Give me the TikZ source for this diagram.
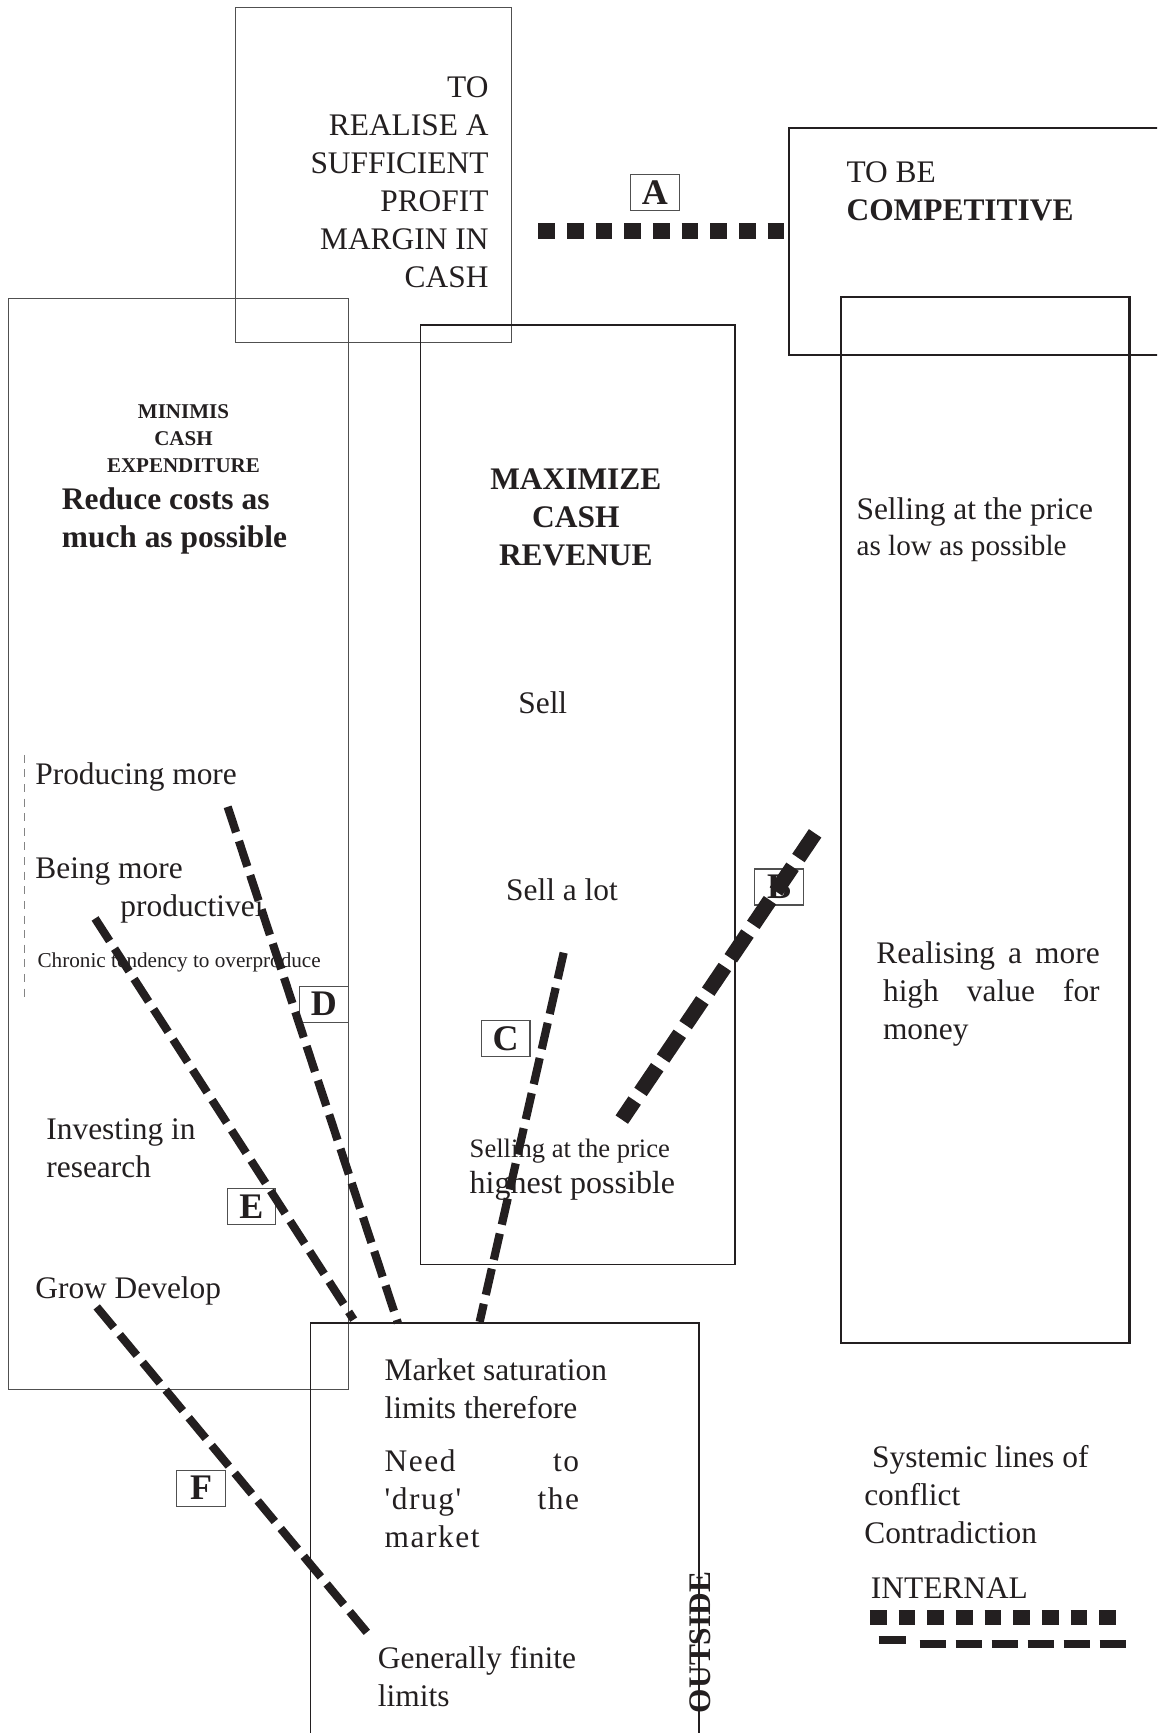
\documentclass[tikz,border=0pt]{standalone}
\usepackage{fontspec}
\setmainfont{Liberation Serif}[Ligatures=TeXOff]
\usetikzlibrary{fit}
\definecolor{ink}{HTML}{231F20}
\definecolor{frame}{HTML}{505050}
\tikzset{
  box/.style={inner sep=0pt, outer sep=0pt},
  thinbox/.style={box, draw=frame, line width=0.6pt},
  midbox/.style={box, draw=ink, line width=0.6pt},
  darkbox/.style={box, draw=ink, line width=0.85pt},
  heavybox/.style={box, draw=ink, line width=1.1pt},
  txt/.style={inner sep=0pt, outer sep=0pt, text=ink, anchor=base west},
  big/.style={font=\fontsize{15.7}{19}\selectfont},
  bigbf/.style={font=\bfseries\fontsize{15.7}{19}\selectfont},
  tag/.style={draw=frame, line width=0.6pt, inner sep=0pt, minimum width=24.3pt,
    minimum height=18pt, text=ink, font=\bfseries\fontsize{18}{18}\selectfont},
  cutline/.style={draw=ink, line width=4.1pt, dash pattern=on 13.4pt off 4.6pt},
  heavycut/.style={draw=ink, line width=7.5pt, dash pattern=on 14.9pt off 5.25pt},
  squares/.style={draw=ink, line width=7.85pt, dash pattern=on 8.34pt off 6.0pt},
  legenddash/.style={draw=ink, line width=4pt, dash pattern=on 13.4pt off 4.6pt},
  guide/.style={draw=frame!70, line width=0.5pt, dash pattern=on 4pt off 3.3pt}
}
\begin{document}
\begin{tikzpicture}[x=0.5525pt, y=-0.5525pt]
\useasboundingbox (0,0) rectangle (1047,1568);
\clip (0,0) rectangle (1047,1568);

% frames
\node[thinbox, fit={(213,7) (463,310)}] (profit) {};
\node[darkbox, fit={(714,116) (1075,321)}] (compet) {};
\node[thinbox, fit={(8,270) (315,1257)}] (minimis) {};
\node[midbox, fit={(380.5,294) (665,1144)}] (maxim) {};
\node[heavybox, fit={(761,269) (1022,1215)}] (lowprice) {};
\node[darkbox, fit={(281,1197) (632.5,1600)}] (outside) {};

% thin dashed guide inside the left frame
\coordinate (g1) at (22.6,683);
\coordinate (g2) at (22.6,905);
\draw[guide] (g1) -- (g2);

% goal
\node[txt, big, anchor=base east] (goal) at (442,88)
  {\parbox[t]{140pt}{\raggedleft TO\\REALISE A\\SUFFICIENT\\PROFIT\\MARGIN IN\\CASH}};
\node[txt, big] (competitive) at (766,165)
  {\parbox[t]{150pt}{TO BE\\\textbf{COMPETITIVE}}};

% left column
\node[txt, font=\bfseries\fontsize{10.5}{13.6}\selectfont, anchor=base] (expend) at (166,378.5)
  {\parbox[t]{100pt}{\centering MINIMIS\\CASH\\EXPENDITURE}};
\node[txt, bigbf] (reduce) at (56,461)
  {\parbox[t]{150pt}{Reduce costs as\\much as possible}};
\node[txt, big] (producing) at (32,710) {Producing more};
\node[txt, big] (being) at (32,795) {Being more};
\node[txt, big] (productive) at (109,829) {productivei};
\node[txt, font=\fontsize{10.6}{13}\selectfont] (chronic) at (34,875) {Chronic tendency to overproduce};
\node[txt, big] (investing) at (42,1031) {\parbox[t]{120pt}{Investing in\\research}};
\node[txt, big] (grow) at (32,1175) {Grow Develop};

% middle column
\node[txt, bigbf, anchor=base] (revenue) at (521,443)
  {\parbox[t]{120pt}{\centering MAXIMIZE\\CASH\\REVENUE}};
\node[txt, big] (sell) at (469,646) {Sell};
\node[txt, big] (sellalot) at (458,815) {Sell a lot};
\node[txt, font=\fontsize{13.3}{16}\selectfont] (highprice1) at (425,1047) {Selling at the price};
\node[txt, font=\fontsize{16}{19}\selectfont] (highprice2) at (425,1080) {highest possible};

% right column
\node[txt, big] (lowp1) at (775,470) {Selling at the price};
\node[txt, font=\fontsize{14.6}{18}\selectfont] (lowp2) at (775,503) {as low as possible};
\node[txt, big] (value) at (793,872)
  {\parbox[t]{120pt}{\makebox[111.6pt][s]{Realising a more}\\
   \hspace*{3.3pt}\makebox[108.3pt][s]{high value for}\\
   \hspace*{3.3pt}money}};

% outside frame
\node[txt, big] (saturation) at (348,1249) {\parbox[t]{120pt}{Market saturation\\limits therefore}};
\node[txt, big] (drug) at (348,1331)
  {\parbox[t]{100pt}{\addfontfeature{LetterSpace=5}\makebox[97.2pt][s]{Need to}\\
   \makebox[97.2pt][s]{'drug' the}\\market}};
\node[txt, big] (finite) at (342,1510) {\parbox[t]{120pt}{Generally finite\\limits}};
\node[txt, bigbf, anchor=center, rotate=90] (outsidelabel) at (634,1486) {OUTSIDE};

% legend
\node[txt, big] (legend) at (782,1328)
  {\parbox[t]{130pt}{\hspace*{3.9pt}Systemic lines of\\conflict\\Contradiction}};
\node[txt, big] (internal) at (788,1446) {INTERNAL};
\coordinate (l1) at (787,1463.4);
\coordinate (l2) at (1011,1463.4);
\draw[squares] (l1) -- (l2);
\coordinate (l3) at (795,1483.7);
\coordinate (l4) at (820,1483.7);
\draw[draw=ink, line width=4pt] (l3) -- (l4);
\coordinate (l5) at (832,1487.8);
\coordinate (l6) at (1019,1487.8);
\draw[legenddash] (l5) -- (l6);

% conflict tags
\node[tag] (tagA) at (592.5,174) {A};
\node[tag] (tagB) at (705,802.5) {B};
\node[tag] (tagC) at (457.5,939.5) {C};
\node[tag] (tagD) at (293,908.5) {D};
\node[tag] (tagE) at (227.5,1091.5) {E};
\node[tag] (tagF) at (182,1346.5) {F};

% lines of conflict
\coordinate (a1) at (487,209);
\coordinate (a2) at (710,209);
\draw[squares] (a1) -- (a2);

\coordinate (b1) at (737.5,754);
\coordinate (b2) at (562.6,1013);
\draw[heavycut] (b1) -- (b2);

\coordinate (c1) at (510,862);
\coordinate (c2) at (434,1196);
\draw[cutline] (c1) -- (c2);

\coordinate (d1) at (206,730);
\coordinate (d2) at (360,1197);
\draw[cutline] (d1) -- (d2);

\coordinate (e1) at (86,831);
\coordinate (e2) at (320,1194);
\draw[cutline] (e1) -- (e2);

\coordinate (f1) at (87.5,1182.5);
\coordinate (f2) at (332,1477);
\draw[cutline] (f1) -- (f2);
\end{tikzpicture}
\end{document}
